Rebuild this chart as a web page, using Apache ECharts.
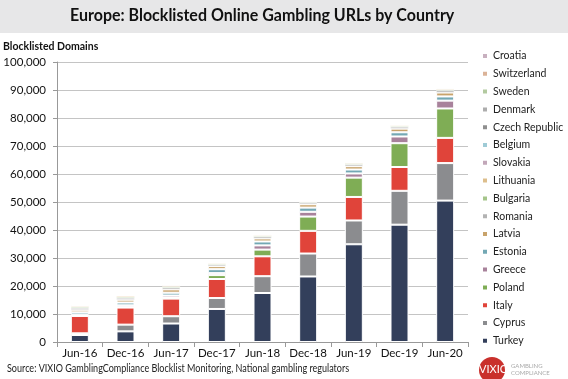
<!DOCTYPE html>
<html><head><meta charset="utf-8">
<script src="https://cdn.jsdelivr.net/npm/echarts@6/dist/echarts.min.js"></script>
<style>html,body{margin:0;padding:0;background:#fff}#c{width:568px;height:379px}</style>
</head><body><div id="c"></div>
<script>
const categories = ['Jun-16','Dec-16','Jun-17','Dec-17','Jun-18','Dec-18','Jun-19','Dec-19','Jun-20'];
const yTicks = [0,10000,20000,30000,40000,50000,60000,70000,80000,90000,100000];
// values in domains (stack order bottom -> top)
const turkey      = [2500, 3800, 6600, 11800, 17500, 23400, 34900, 41900, 50500];
const cyprus      = [600, 2400, 2600, 3900, 6000, 8200, 8500, 12100, 13400];
const italy       = [6200, 6100, 6300, 6800, 7100, 8100, 8400, 8500, 9000];
const poland      = [200, 300, 400, 1400, 2400, 5100, 6900, 8500, 10500];
const greece      = [300, 500, 700, 700, 1500, 1700, 1500, 2400, 2800];
const estonia     = [800, 1000, 1000, 1400, 1400, 1500, 1400, 1500, 1500];
const latvia      = [900, 1000, 1200, 1100, 1100, 1200, 1200, 1300, 1400];
const romania     = [600, 600, 600, 500, 600, 500, 600, 600, 700];
const bulgaria    = [400, 400, 400, 350, 350, 300, 350, 350, 350];
const lithuania   = [350, 400, 350, 300, 300, 250, 300, 300, 300];
const slovakia    = [200, 200, 200, 150, 200, 150, 150, 200, 200];
const belgium     = [150, 150, 150, 150, 150, 100, 100, 150, 150];
const czech       = [100, 100, 100, 100, 100, 100, 100, 100, 100];
const denmark     = [100, 100, 150, 100, 100, 100, 100, 100, 100];
const sweden      = [100, 100, 100, 100, 100, 50, 100, 100, 100];
const switzerland = [50, 100, 100, 50, 50, 50, 50, 100, 100];
const croatia     = [50, 50, 50, 50, 50, 50, 50, 50, 50];

const seriesDefs = [
  ['Turkey', turkey, '#333F5B'],
  ['Cyprus', cyprus, '#8B8C8F'],
  ['Italy', italy, '#E0443A'],
  ['Poland', poland, '#7FAD55'],
  ['Greece', greece, '#A8829B'],
  ['Estonia', estonia, '#73A8B4'],
  ['Latvia', latvia, '#C8A36B'],
  ['Romania', romania, '#B3B3B3'],
  ['Bulgaria', bulgaria, '#A5C58A'],
  ['Lithuania', lithuania, '#DDBE8C'],
  ['Slovakia', slovakia, '#C2A7B9'],
  ['Belgium', belgium, '#9FCBD6'],
  ['Czech Republic', czech, '#8F8F8F'],
  ['Denmark', denmark, '#ADADAD'],
  ['Sweden', sweden, '#B3CAA0'],
  ['Switzerland', switzerland, '#DBB398'],
  ['Croatia', croatia, '#C8B0BF']
];

const FONT = 'Lato';
const chart = echarts.init(document.getElementById('c'), null, {renderer: 'canvas'});
chart.setOption({
  animation: false,
  textStyle: {fontFamily: FONT},
  graphic: [
    {type: 'rect', left: 0, top: 0, shape: {width: 568, height: 33}, style: {fill: '#E7E7E8'}, z: 0},
    {type: 'text', x: 70, y: 7, scaleX: 0.97, style: {text: 'Europe: Blocklisted Online Gambling URLs by Country', font: 'bold 16.5px Lato', fill: '#111'}},
    {type: 'text', x: 7, y: 363, scaleX: 0.86, style: {text: 'Source: VIXIO GamblingCompliance Blocklist Monitoring, National gambling regulators', font: '10.5px Lato', fill: '#222'}},
    {type: 'circle', shape: {cx: 492, cy: 370, r: 13}, style: {fill: '#C9302C'}},
    {type: 'text', x: 479, y: 364, style: {text: 'VIXIO', font: '11px Lato', fill: '#fff'}},
    {type: 'text', x: 511, y: 363, style: {text: 'GAMBLING\nCOMPLIANCE', font: '6px Lato', fill: '#AAA', lineHeight: 7}}
  ],
  legend: {
    orient: 'vertical', left: 481, top: 50, padding: 0,
    itemWidth: 6, itemHeight: 6, itemGap: 5.8, icon: 'rect',
    textStyle: {fontSize: 10.5, color: '#222', lineHeight: 12},
    data: seriesDefs.map(d => d[0]).reverse()
  },
  grid: {left: 57, right: 100, top: 62, bottom: 37},
  xAxis: {
    type: 'category', data: categories,
    axisLine: {lineStyle: {color: '#999'}},
    axisTick: {show: true, length: 5, lineStyle: {color: '#999'}},
    axisLabel: {color: '#111', fontSize: 11.5, margin: 5, interval: 0}
  },
  yAxis: {
    type: 'value', min: 0, max: 100000, interval: 10000,
    name: 'Blocklisted Domains', nameLocation: 'end',
    nameTextStyle: {fontSize: 10.5, fontWeight: 'bold', color: '#111', align: 'left', padding: [0,0,2,-54]},
    nameGap: 8,
    axisLine: {show: true, lineStyle: {color: '#999'}},
    axisTick: {show: true, length: 4, lineStyle: {color: '#999'}},
    splitLine: {lineStyle: {color: '#C4C4C4'}},
    axisLabel: {color: '#111', fontSize: 11.5, margin: 11, formatter: v => yTicks.includes(v) ? v.toLocaleString('en-US') : ''}
  },
  series: seriesDefs.map((d, i) => ({
    name: d[0], type: 'bar', stack: 'total', data: d[1], barWidth: 18,
    itemStyle: {color: d[2], borderColor: '#fff', borderWidth: i < 7 ? 1 : 0.5}
  }))
});
</script></body></html>
